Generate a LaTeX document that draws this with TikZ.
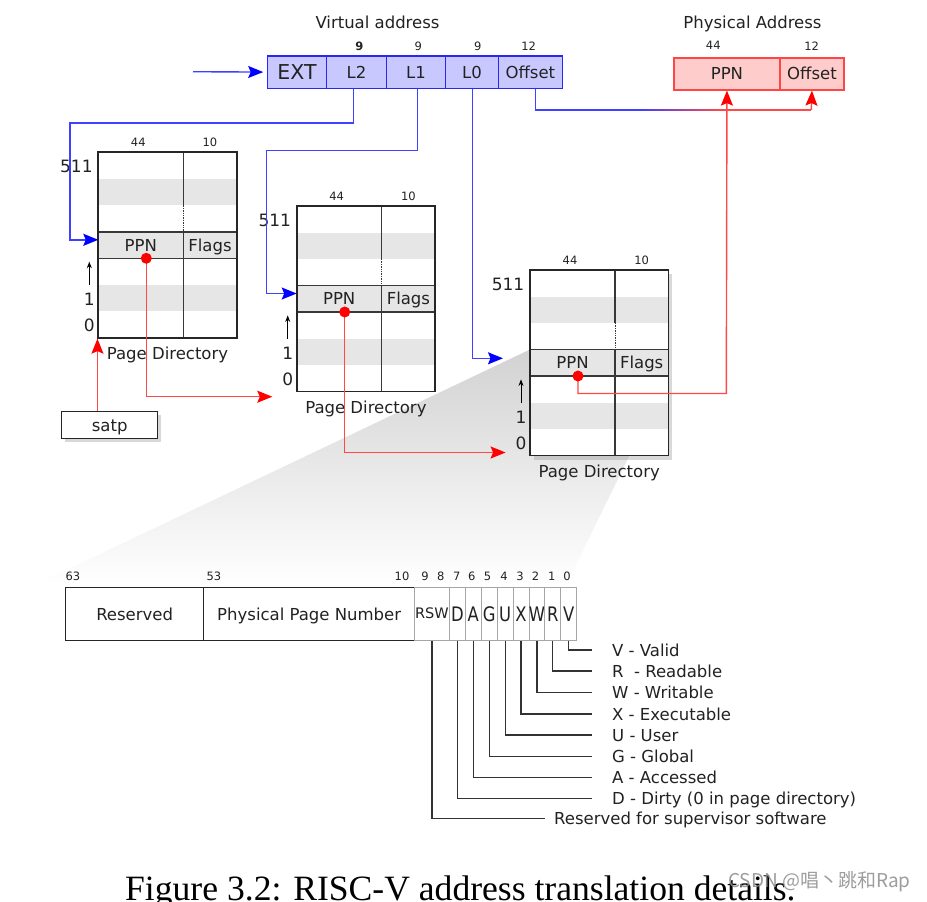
\documentclass[tikz,border=0pt]{standalone}
\usepackage{fontspec}
\setmainfont{DejaVu Sans}
\newfontfamily\capfont{Liberation Serif}
\newfontfamily\cjkfont{Noto Sans CJK SC}
\usetikzlibrary{arrows.meta,shadows,calc}
\definecolor{vfill}{HTML}{C8C8FF}
\definecolor{vline}{HTML}{2828F0}
\definecolor{pfill}{HTML}{FFCCCC}
\definecolor{pline}{HTML}{FF4545}
\definecolor{bandc}{HTML}{E6E6E6}
\definecolor{bcon}{HTML}{4040FF}
\definecolor{rcon}{HTML}{FF4848}
\definecolor{ink}{HTML}{222222}
\definecolor{gridc}{HTML}{383838}
\definecolor{fangray}{HTML}{D2D2D2}
\tikzset{
 lab/.style={font=\fontsize{16.5}{18}\selectfont, text=ink, inner sep=0pt, text height=12pt, text depth=0pt},
 num/.style={font=\fontsize{11.5}{13}\selectfont, text=ink, inner sep=0pt, text height=8.4pt, text depth=0pt},
 big/.style={font=\fontsize{17}{19}\selectfont, text=ink, inner sep=0pt, text height=12.4pt, text depth=0pt},
 vcell/.style={lab, draw=vline, fill=vfill, line width=1.3pt, minimum height=32.5pt, anchor=north west},
 pcell/.style={lab, draw=pline, fill=pfill, line width=1.3pt, minimum height=32pt, anchor=north west},
 dirframe/.style={draw=gridc, line width=1.7pt, fill=white, minimum width=138.4pt, minimum height=185.5pt, inner sep=0pt},
 gridl/.style={draw=gridc, line width=1.4pt},
 framel/.style={draw=black!85, line width=1.7pt},
 barrow/.style={draw=bcon, line width=1.4pt, -{Stealth[length=15pt,width=12pt,inset=2.5pt,color=blue,fill=blue]}},
 rarrow/.style={draw=rcon, line width=1.4pt, -{Stealth[length=15pt,width=12pt,inset=2.5pt,color=red,fill=red]}},
 uparrow/.style={draw=black, line width=1pt, -{Stealth[length=6.5pt,width=5pt]}},
 ptebox/.style={lab, draw=black!85, line width=1.3pt, minimum height=53pt, anchor=north west},
 bitbox/.style={draw=black!35, line width=0.9pt, minimum height=53pt, minimum width=15.9pt, inner sep=0pt, anchor=north west},
 bitlet/.style={font=\fontsize{20}{22}\selectfont, text=ink, inner sep=0pt, text height=14.6pt, text depth=0pt},
 leader/.style={draw=black!80, line width=1.2pt},
 desc/.style={lab, anchor=west},
}
\newcommand\PageDir[4]{%
\begin{scope}[shift={(#2,#3)}]
 \node[dirframe,#4] (#1) at (69.2,92.75) {};
 \fill[bandc] (0,26.5) rectangle (138.4,53);
 \fill[bandc] (0,79.5) rectangle (138.4,106);
 \fill[bandc] (0,132.5) rectangle (138.4,159);
 \draw[gridl] (0,79.5) -- (138.4,79.5) (0,106) -- (138.4,106);
 \draw[gridl] (85,0) -- (85,53) (85,79.5) -- (85,185.5);
 \draw[gridl, densely dotted, line width=0.8pt] (85,53) -- (85,79.5);
 \draw[framel] (0,0) rectangle (138.4,185.5);
 \node[lab] (#1ppn) at (42.5,92.75) {PPN};
 \node[lab] (#1flags) at (111.7,92.75) {Flags};
 \node[num] (#1wa) at (40,-9.6) {44};
 \node[num] (#1wb) at (111.7,-9.6) {10};
 \node[big, anchor=east] (#1top) at (-5.5,14) {511};
 \node[big] (#1one) at (-9,147) {1};
 \node[big] (#1zero) at (-9,173) {0};
 \coordinate (#1as) at (-9,132.7);
 \coordinate (#1ae) at (-9,109.4);
 \draw[uparrow] (#1as) -- (#1ae);
 \node[lab] (#1cap) at (69.2,201.5) {Page Directory};
 \coordinate (#1dot) at (48,106);
 \coordinate (#1in) at (0,87.5);
\end{scope}}
\begin{document}
\begin{tikzpicture}[x=1pt,y=-1pt]
\useasboundingbox (0,0) rectangle (927,902);
\fill[white] (0,0) rectangle (927,902);

% titles
\node[lab] (vtitle) at (377.5,22) {Virtual address};
\node[lab] (ptitle) at (752.5,22) {Physical Address};

% virtual address
\node[vcell, minimum width=59.3pt, font=\fontsize{20.5}{22}\selectfont, text height=15pt] (ext) at (266.7,55.2) {EXT};
\node[vcell, minimum width=59.7pt] (l2) at (326,55.2) {L2};
\node[vcell, minimum width=59.3pt] (l1) at (385.7,55.2) {L1};
\node[vcell, minimum width=52.7pt] (l0) at (445,55.2) {L0};
\node[vcell, minimum width=64pt] (voff) at (497.7,55.2) {Offset};
\node[num, font=\fontsize{11.5}{13}\selectfont\bfseries] (n9a) at (359.3,46.7) {9};
\node[num] (n9b) at (418.3,46.7) {9};
\node[num] (n9c) at (477.7,46.7) {9};
\node[num] (n12a) at (528.7,46.7) {12};

% physical address
\node[pcell, minimum width=106pt] (pppn) at (673.3,57.3) {PPN};
\node[pcell, minimum width=64pt] (poff) at (779.3,57.3) {Offset};
\node[num] (n44p) at (713.3,45) {44};
\node[num] (n12p) at (811.7,46.5) {12};

% fan
\shade[top color=fangray, bottom color=white] (530,349.5) -- (668.4,376) -- (566,585) -- (35,585) -- cycle;

% page directories
\PageDir{dir1}{98.3}{152.3}{}
\PageDir{dir2}{296.7}{206}{}
\PageDir{dir3}{530}{270}{drop shadow={opacity=0.3,shadow xshift=4pt,shadow yshift=-4pt}}

% satp
\node[lab, draw=black!85, fill=white, line width=1.3pt, minimum width=96pt, minimum height=26.6pt, drop shadow={opacity=0.3,shadow xshift=3.5pt,shadow yshift=-3.5pt}] (satp) at (109.7,425) {satp};

% blue connectors
\coordinate (vin) at (193,71.7);
\draw[barrow, shorten >=3.5pt] (vin) -- (ext.west);
\draw[barrow] ([xshift=-3pt]l2.south) |- (70,123) |- (dir1in);
\draw[barrow] ([xshift=1.3pt]l1.south) |- (266.7,150.5) |- (dir2in);
\coordinate (t0) at (503,358.3);
\draw[barrow] ([xshift=0.4pt]l0.south) |- (t0);

% offset connector (blue to red)
\coordinate (oe) at (811.3,110);
\draw[draw=bcon, line width=1.4pt] ([xshift=5.3pt]voff.south) |- (640,110);
\shade[left color=bcon, right color=rcon] (640,109.3) rectangle (720,110.7);
\draw[draw=rcon, line width=1.4pt] (720,110) -- (oe);
\draw[rarrow] (oe) -- (poff.south);

% red connectors
\draw[rarrow] (satp.north -| dir1.south west) -- (dir1.south west);
\coordinate (t2) at (272.3,396.7);
\draw[rarrow] (dir1dot) |- (t2);
\coordinate (t3) at (505.6,452.5);
\draw[rarrow] (dir2dot) |- (t3);
\draw[rarrow] (dir3dot) |- (726.3,393.5) -- (pppn.south);
\fill[red] (dir1dot) circle[radius=5.5pt];
\fill[red] (dir2dot) circle[radius=5.5pt];
\fill[red] (dir3dot) circle[radius=5.5pt];

% PTE
\node[ptebox, minimum width=138pt] (res) at (65,587) {Reserved};
\node[ptebox, minimum width=211pt] (ppnf) at (203,587) {Physical Page Number};
\node[bitbox, minimum width=35pt] (brsw) at (414,587) {};
\node[font=\fontsize{14.5}{16}\selectfont, text=ink, inner sep=0pt, text height=10.5pt, text depth=0pt] (lrsw) at ([yshift=1pt]brsw.center) {RSW};
\foreach \nm/\xx in {D/449,A/464.9,G/480.8,U/496.7,X/512.6,W/528.5,R/544.4,V/560.3} {
 \node[bitbox] (b\nm) at (\xx,587) {};
 \node[bitlet] (l\nm) at (b\nm.center) {\scalebox{0.82}[1]{\nm}};
}
\node[num] (n63) at (73,576.7) {63};
\node[num] (n53) at (214,576.7) {53};
\node[num] (n10) at (402,576.7) {10};
\foreach \n/\xx in {9/425,8/440.7,7/456.7,6/471.7,5/487.5,4/504,3/520,2/535.5,1/551.7,0/567} {
 \node[num] (bn\n) at (\xx,576.7) {\n};
}
\foreach \nm/\yy/\tx in {V/650/{V - Valid},R/671/{R\ \ - Readable},W/692.7/{W - Writable},X/714/{X - Executable},U/735/{U - User},G/756.7/{G - Global},A/777.3/{A - Accessed},D/798.3/{D - Dirty (0 in page directory)}} {
 \coordinate (e\nm) at (592,\yy);
 \draw[leader] (b\nm.south) |- (e\nm);
 \node[desc] (t\nm) at (612,\yy) {\tx};
}
\coordinate (ersw) at (545,818.3);
\draw[leader] (brsw.south) |- (ersw);
\node[desc] (trsw) at (554,818.3) {Reserved for supervisor software};

% caption
\node[font=\capfont\fontsize{35.6}{40}\selectfont, anchor=base west, inner sep=0pt, text=black] (caption) at (125,900) {Figure 3.2: RISC-V address translation details.};
\node[font=\cjkfont\fontsize{19}{21}\selectfont, text=black!45, opacity=0.85, anchor=west, inner sep=0pt] (wm) at (728,882) {CSDN @唱丶跳和Rap};
\end{tikzpicture}
\end{document}
